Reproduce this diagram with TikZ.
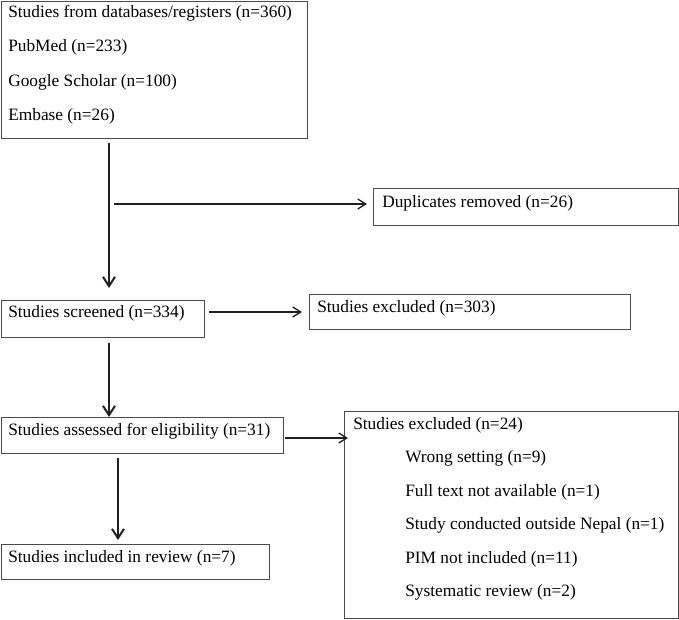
\documentclass[tikz,border=0pt]{standalone}
\usepackage{fontspec}
\setmainfont{Liberation Serif}
\usetikzlibrary{arrows.meta}
\definecolor{boxline}{HTML}{4A4A4A}
\definecolor{arrowline}{HTML}{231F20}
\begin{document}
\begin{tikzpicture}[x=0.75pt,y=-0.75pt,
  box/.style={draw=boxline, line width=0.8pt, inner sep=0pt, anchor=north west},
  lbl/.style={anchor=base west, inner sep=0pt, font=\fontsize{13}{15}\selectfont},
  varrow/.style={draw=arrowline, line width=1.5pt, -{Straight Barb[length=7pt,width=9pt,line width=1.5pt]}},
  harrow/.style={draw=arrowline, line width=1pt, -{Straight Barb[length=6pt,width=7.5pt,line width=1pt]}}]
\useasboundingbox (0,0) rectangle (679,619);
% boxes
\node[box, minimum width=229.5pt, minimum height=102.75pt] (src) at (1,1) {};
\node[box, minimum width=228.75pt, minimum height=27.75pt] (dup) at (373,188) {};
\node[box, minimum width=152.25pt, minimum height=27.75pt] (scr) at (1,300) {};
\node[box, minimum width=240.75pt, minimum height=26.25pt] (exa) at (309,294) {};
\node[box, minimum width=211.5pt, minimum height=27pt] (elig) at (1,417) {};
\node[box, minimum width=250.5pt, minimum height=155.25pt] (exb) at (344,411) {};
\node[box, minimum width=201pt, minimum height=26.25pt] (inc) at (1,544) {};
% labels
\node[lbl] (t1) at (8,17) {Studies from databases/registers (n=360)};
\node[lbl] (t2) at (8,51.5) {PubMed (n=233)};
\node[lbl] (t3) at (8,86) {Google Scholar (n=100)};
\node[lbl] (t4) at (8,120) {Embase (n=26)};
\node[lbl] (t5) at (382,207) {Duplicates removed (n=26)};
\node[lbl] (t6) at (8,317) {Studies screened (n=334)};
\node[lbl] (t7) at (317,312) {Studies excluded (n=303)};
\node[lbl] (t8) at (8,435) {Studies assessed for eligibility (n=31)};
\node[lbl] (t9) at (353,429) {Studies excluded (n=24)};
\node[lbl] (t10) at (405,462.5) {Wrong setting (n=9)};
\node[lbl] (t11) at (405,496) {Full text not available (n=1)};
\node[lbl] (t12) at (405,529.5) {Study conducted outside Nepal (n=1)};
\node[lbl] (t13) at (405,563) {PIM not included (n=11)};
\node[lbl] (t14) at (405,596.5) {Systematic review (n=2)};
\node[lbl] (t15) at (8,562.5) {Studies included in review (n=7)};
% helper coordinates
\coordinate (a1) at (109,0);
\coordinate (a2) at (118,0);
\coordinate (d0) at (114,204);
\coordinate (e0) at (0,312);
\coordinate (e1) at (0,438);
% connectors
\draw[varrow, shorten <=3pt, shorten >=9pt] (src.south -| a1) -- (scr.north -| a1);
\draw[harrow, shorten >=4.5pt] (d0) -- (d0 -| dup.west);
\draw[harrow, shorten <=3pt, shorten >=5.25pt] (scr.east |- e0) -- (exa.west |- e0);
\draw[varrow, shorten <=3.75pt] (scr.south -| a1) -- (elig.north -| a1);
\draw[harrow, shorten <=0.75pt, shorten >=-3pt] (elig.east |- e1) -- (exb.west |- e1);
\draw[varrow, shorten <=3pt, shorten >=3pt] (elig.south -| a2) -- (inc.north -| a2);
\end{tikzpicture}
\end{document}
